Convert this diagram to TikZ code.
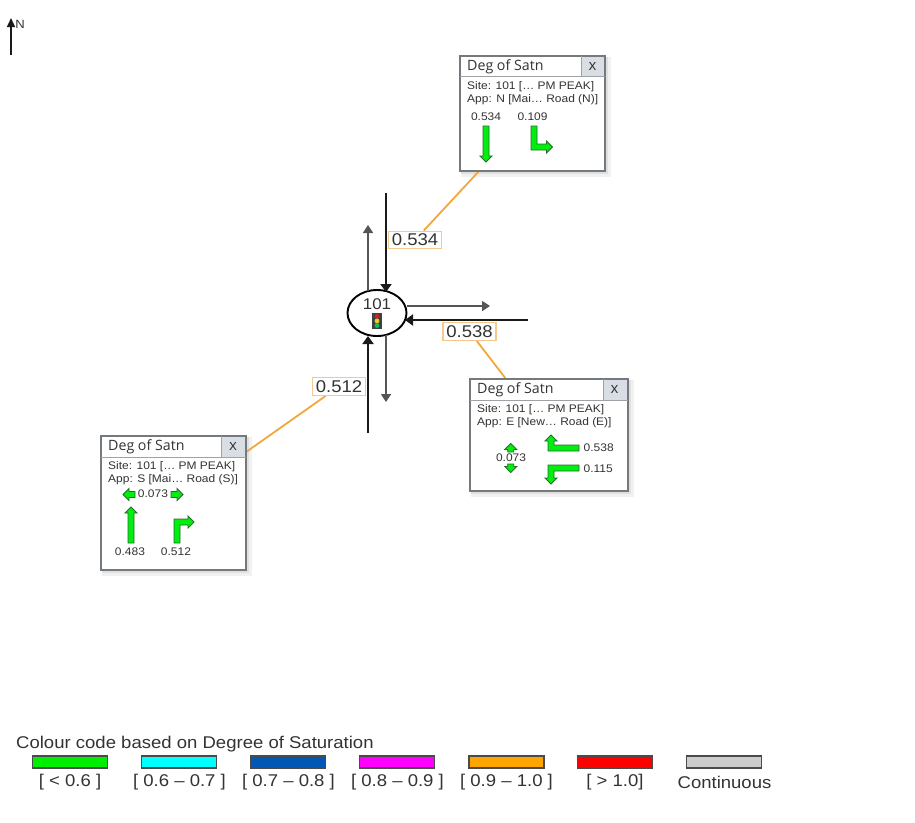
\documentclass[tikz,border=0pt]{standalone}
\usepackage{fontspec}
\setmainfont{Liberation Sans}
\newfontfamily\widefont[FakeStretch=1.09]{Liberation Sans}
\newfontfamily\titlefont{Open Sans}
\usetikzlibrary{arrows.meta,backgrounds,shapes.geometric}
\definecolor{gfill}{HTML}{00EE10}
\definecolor{gline}{HTML}{2A6A2A}
\definecolor{orangeline}{HTML}{F2A63C}
\definecolor{labelline}{HTML}{F5C890}
\definecolor{popborder}{HTML}{74797E}
\definecolor{xcell}{HTML}{D9DEE5}
\definecolor{txt}{HTML}{333333}
\definecolor{cGreen}{HTML}{00EE00}
\definecolor{cCyan}{HTML}{00FFFF}
\definecolor{cBlue}{HTML}{0058B4}
\definecolor{cMagenta}{HTML}{FF00FF}
\definecolor{cOrange}{HTML}{FFA500}
\definecolor{cRed}{HTML}{FF0000}
\definecolor{cGrey}{HTML}{CCCCCC}
\definecolor{lampR}{HTML}{D02020}
\definecolor{lampY}{HTML}{E8D020}
\definecolor{lampG}{HTML}{10C060}
\definecolor{lampBody}{HTML}{404040}
\definecolor{shadowA}{HTML}{F1F1F1}
\definecolor{shadowB}{HTML}{E0E0E0}
\definecolor{roadI}{HTML}{1A1A1A}
\definecolor{roadO}{HTML}{555555}
\definecolor{barline}{HTML}{4A4A4A}
\tikzset{
  popup/.style={draw=popborder,line width=1.2pt,fill=white,inner sep=0pt},
  divline/.style={draw=popborder!70,line width=0.8pt},
  xbox/.style={fill=xcell,draw=none},
  poptitle/.style={font=\titlefont\fontsize{14.2}{16}\selectfont,text=txt,anchor=west,inner sep=0pt},
  popx/.style={font=\titlefont\fontsize{15}{16}\selectfont,text=txt,inner sep=0pt},
  poptext/.style={font=\widefont\fontsize{11}{12}\selectfont,text=txt,anchor=west,inner sep=0pt},
  popnum/.style={font=\widefont\fontsize{11}{12}\selectfont,text=txt,inner sep=0pt},
  leader/.style={draw=orangeline,line width=1.8pt},
  vallabel/.style={draw=labelline,fill=white,line width=1.4pt,font=\widefont\fontsize{17}{18}\selectfont,text=txt,inner sep=0pt,minimum width=53pt,minimum height=17.5pt},
  roadin/.style={draw=roadI,line width=2pt,-{Triangle[length=8pt,width=11pt]}},
  roadout/.style={draw=roadO,line width=1.7pt,-{Triangle[length=8pt,width=10pt]}},
  site/.style={draw=black,line width=1.9pt,fill=white,ellipse,minimum width=59pt,minimum height=46pt,inner sep=0pt},
  garrow/.style={fill=gfill,draw=gline,line width=0.9pt,line join=miter},
  legendbar/.style={draw=barline,line width=1.6pt,minimum width=75pt,minimum height=12pt,inner sep=0pt},
  legendtext/.style={font=\widefont\fontsize{17}{18}\selectfont,text=txt,inner sep=0pt}
}
\newcommand{\gstr}[4]{%
  \begin{scope}[shift={(#1,#2)},rotate=#3]
    \draw[garrow] (0,-3) -- ({#4-6},-3) -- ({#4-6},-6) -- (#4,0) -- ({#4-6},6) -- ({#4-6},3) -- (0,3) -- cycle;
  \end{scope}}
\newcommand{\softshadow}[4]{%
  \fill[shadowA] ({#1+1},{#2+1}) rectangle ({#3+6},{#4+6});
  \fill[shadowB] ({#1+1},{#2+1}) rectangle ({#3+3},{#4+3});}
\begin{document}
\begin{tikzpicture}[x=1pt,y=-1pt]
\useasboundingbox (0,0) rectangle (915,822);

% north arrow
\coordinate (ntail) at (11,55);
\coordinate (nhead) at (11,18);
\draw[draw=roadI,line width=1.5pt,-{Triangle[length=9pt,width=8pt]}] (ntail) -- (nhead);
\node[font=\widefont\fontsize{12}{13}\selectfont,text=txt,inner sep=0pt] (northlabel) at (20,24) {N};

% popups
\node[popup,minimum width=145pt,minimum height=115pt] (boxN) at (532.5,113.5) {};
\node[popup,minimum width=158pt,minimum height=112pt] (boxE) at (549,435) {};
\node[popup,minimum width=145pt,minimum height=134pt] (boxS) at (173.5,503) {};

% value labels
\node[vallabel] (lab534) at (415,240) {0.534};
\node[vallabel] (lab538) at (469.5,331.5) {0.538};
\node[vallabel] (lab512) at (339,386.5) {0.512};

\begin{scope}[on background layer]
  \softshadow{460}{56}{605}{171}
  \softshadow{470}{379}{628}{491}
  \softshadow{101}{436}{246}{570}
  \draw[leader] (lab534) -- (boxN);
  \draw[leader] (lab538) -- (boxE);
  \draw[leader] (lab512) -- (boxS);
\end{scope}

% popup N
\fill[xbox] (581,56.7) rectangle (604.4,76);
\draw[divline] (460,76.5) -- (605,76.5);
\draw[divline] (581,56) -- (581,76);
\node[poptitle] (tN) at (467,66.5) {Deg of Satn};
\node[popx] (xN) at (592.5,66) {x};
\node[poptext] (sN) at (467,87) {Site: 101 [… PM PEAK]};
\node[poptext] (aN) at (467,99.5) {App: N [Mai… Road (N)]};
\node[popnum] (n1) at (486,117) {0.534};
\node[popnum] (n2) at (532.5,117) {0.109};
\gstr{486}{126}{-90}{36}
\draw[garrow] (531,126) -- (537,126) -- (537,144) -- (546.5,144) -- (546.5,141) -- (552.5,147) -- (546.5,153) -- (546.5,150) -- (531,150) -- cycle;

% popup E
\fill[xbox] (603,379.7) rectangle (627.4,400);
\draw[divline] (470,400.5) -- (628,400.5);
\draw[divline] (603,379) -- (603,400);
\node[poptitle] (tE) at (477,390) {Deg of Satn};
\node[popx] (xE) at (614.5,389.5) {x};
\node[poptext] (sE) at (477,410) {Site: 101 [… PM PEAK]};
\node[poptext] (aE) at (477,422.5) {App: E [New… Road (E)]};
\node[popnum] (e1) at (511,458) {0.073};
\node[popnum,anchor=west] (e2) at (583.5,448) {0.538};
\node[popnum,anchor=west] (e3) at (583.5,468.5) {0.115};
\gstr{510.7}{452}{90}{8.5}
\gstr{510.7}{464}{-90}{8.5}
\draw[garrow] (579,445) -- (554,445) -- (554,441) -- (557,441) -- (551,435) -- (545,441) -- (548,441) -- (548,451) -- (579,451) -- cycle;
\draw[garrow] (579,465) -- (548,465) -- (548,478) -- (545,478) -- (551,484) -- (557,478) -- (554,478) -- (554,471) -- (579,471) -- cycle;

% popup S
\fill[xbox] (221,436.7) rectangle (245.4,457);
\draw[divline] (101,457.5) -- (246,457.5);
\draw[divline] (221,436) -- (221,457);
\node[poptitle] (tS) at (108,446.5) {Deg of Satn};
\node[popx] (xS) at (233,446) {x};
\node[poptext] (sS) at (108,467) {Site: 101 [… PM PEAK]};
\node[poptext] (aS) at (108,479.5) {App: S [Mai… Road (S)]};
\node[popnum] (s1) at (153,494) {0.073};
\node[popnum] (s2) at (130,552) {0.483};
\node[popnum] (s3) at (176,552) {0.512};
\gstr{135}{494.5}{180}{12}
\gstr{171}{494.5}{0}{12}
\gstr{131}{543}{90}{36}
\draw[garrow] (174,543) -- (174,519) -- (188,519) -- (188,516) -- (194,522) -- (188,528) -- (188,525) -- (180,525) -- (180,543) -- cycle;

% site
\node[site] (site) at (377,313) {};
\node[font=\widefont\fontsize{15.5}{16}\selectfont,text=txt,inner sep=0pt] (sitenum) at (377,304) {101};
\fill[lampBody] (372.3,313.3) rectangle (381.7,328.5);
\fill[lampR] (377,316.3) circle (2.4);
\fill[lampY] (377,320.9) circle (2.4);
\fill[lampG] (377,325.5) circle (2.4);

% roads
\coordinate (nIn) at (386,193);
\coordinate (nInEnd) at (386,292);
\coordinate (nOut) at (368,291);
\coordinate (nOutEnd) at (368,225);
\coordinate (eOut) at (407,306);
\coordinate (eOutEnd) at (490,306);
\coordinate (eIn) at (528,320);
\coordinate (eInEnd) at (405,320);
\coordinate (sIn) at (368,433);
\coordinate (sInEnd) at (368,336);
\coordinate (sOut) at (386,335);
\coordinate (sOutEnd) at (386,402);
\draw[roadin] (nIn) -- (nInEnd);
\draw[roadout] (nOut) -- (nOutEnd);
\draw[roadout] (eOut) -- (eOutEnd);
\draw[roadin] (eIn) -- (eInEnd);
\draw[roadin] (sIn) -- (sInEnd);
\draw[roadout] (sOut) -- (sOutEnd);

% legend
\node[font=\widefont\fontsize{17}{18}\selectfont,text=txt,anchor=west,inner sep=0pt] (legendtitle) at (16,744) {Colour code based on Degree of Saturation};
\node[legendbar,fill=cGreen] (b1) at (70,762) {};
\node[legendbar,fill=cCyan] (b2) at (179,762) {};
\node[legendbar,fill=cBlue] (b3) at (288,762) {};
\node[legendbar,fill=cMagenta] (b4) at (397,762) {};
\node[legendbar,fill=cOrange] (b5) at (506.5,762) {};
\node[legendbar,fill=cRed] (b6) at (615,762) {};
\node[legendbar,fill=cGrey] (b7) at (724,762) {};
\node[legendtext] (l1) at (70,782) {[ < 0.6 ]};
\node[legendtext] (l2) at (179.5,782) {[ 0.6 – 0.7 ]};
\node[legendtext] (l3) at (288.5,782) {[ 0.7 – 0.8 ]};
\node[legendtext] (l4) at (397.5,782) {[ 0.8 – 0.9 ]};
\node[legendtext] (l5) at (506.5,782) {[ 0.9 – 1.0 ]};
\node[legendtext] (l6) at (615,782) {[ > 1.0]};
\node[legendtext] (l7) at (724.5,782) {Continuous};
\end{tikzpicture}
\end{document}
